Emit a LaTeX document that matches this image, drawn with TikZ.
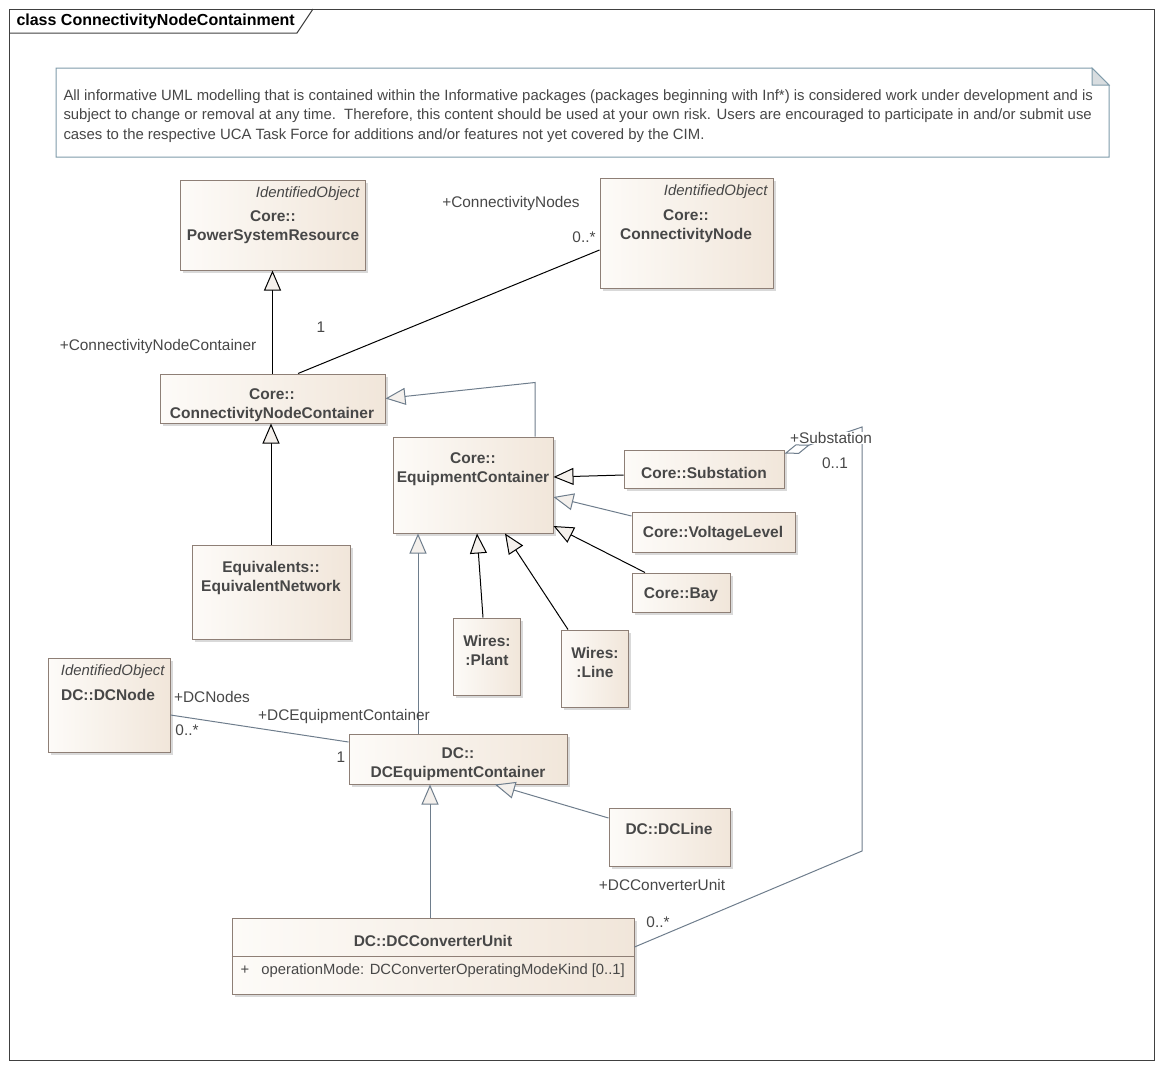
\documentclass[tikz,border=0pt]{standalone}
\usepackage{fontspec}
\setmainfont{Liberation Sans}
\usetikzlibrary{arrows.meta,shadows}

\definecolor{clsL}{HTML}{FDFBF8}
\definecolor{clsR}{HTML}{F1E6DA}
\definecolor{clsline}{HTML}{8E7F76}
\definecolor{clstext}{HTML}{474747}
\definecolor{slate}{HTML}{6E7D8C}
\definecolor{noteline}{HTML}{7F9BAA}
\definecolor{notefold}{HTML}{D8DDE0}
\definecolor{tipfill}{HTML}{F4F0EC}

\begin{document}
\begin{tikzpicture}[x=1pt,y=-1pt,line width=1pt]
      \tikzstyle{every node}+=[inner sep=0pt, text=clstext]
      \tikzstyle{cls}=[draw=clsline, left color=clsL, right color=clsR,
        drop shadow={shadow xshift=3pt,shadow yshift=-3pt,opacity=0.3,fill=gray}]
      \tikzstyle{cname}=[font=\fontsize{15.5}{19}\selectfont\bfseries, align=center]
      \tikzstyle{stereo}=[font=\fontsize{14.9}{17}\selectfont\itshape, anchor=east]
      \tikzstyle{role}=[font=\fontsize{15.4}{17}\selectfont]
      \tikzstyle{genb}=[black, -{Triangle[length=20pt,width=17pt,fill=tipfill]}]
      \tikzstyle{gens}=[slate, -{Triangle[length=20pt,width=17pt,fill=tipfill]}]
      \useasboundingbox (0,0) rectangle (1161,1069);
      % frame and title tab
      \draw [black!75] (9,9) rectangle (1154,1060);
      \draw [black!75] (9,33) -- (297,33) -- (313,9);
      \node (title) [anchor=west, text=black, font=\fontsize{16}{19}\selectfont\bfseries] at (16,21) {class ConnectivityNodeContainment};
      % note
      \draw [noteline, fill=white] (56,68) -- (1092,68) -- (1109,85) -- (1109,157) -- (56,157) -- cycle;
      \draw [noteline, fill=notefold] (1092,68) -- (1092,85) -- (1109,85) -- cycle;
      \node (note) [anchor=west, align=left, font=\fontsize{14.9}{19.5}\selectfont] at (63,116)
        {All informative UML modelling that is contained within the Informative packages (packages beginning with Inf*) is considered work under development and is\\
         subject to change or removal at any time.\ \ Therefore, this content should be used at your own risk. Users are encouraged to participate in and/or submit use\\
         cases to the respective UCA Task Force for additions and/or features not yet covered by the CIM.};
      % classes
      \node (psr) [cls, minimum width=185, minimum height=90] at (272.5,225) {};
      \node (psrS) [stereo] at (360,194) {IdentifiedObject};
      \node (psrN) [cname] at (273,227) {Core::\\PowerSystemResource};
      \node (cn) [cls, minimum width=173, minimum height=110] at (686.5,233) {};
      \node (cnS) [stereo] at (768,192) {IdentifiedObject};
      \node (cnN) [cname] at (686,226) {Core::\\ConnectivityNode};
      \node (cnc) [cls, minimum width=225, minimum height=49] at (272.5,398.5) {};
      \node (cncN) [cname] at (272,405.5) {Core::\\ConnectivityNodeContainer};
      \node (ec) [cls, minimum width=160, minimum height=96] at (473,485) {};
      \node (ecN) [cname] at (473,469.5) {Core::\\EquipmentContainer};
      \node (eqn) [cls, minimum width=158, minimum height=94] at (271,592) {};
      \node (eqnN) [cname] at (271,577.5) {Equivalents::\\EquivalentNetwork};
      \node (sub) [cls, minimum width=160, minimum height=38] at (704,469) {};
      \node (subN) [cname] at (704,472.5) {Core::Substation};
      \node (vl) [cls, minimum width=163, minimum height=40] at (713.5,532) {};
      \node (vlN) [cname] at (713,534) {Core::VoltageLevel};
      \node (bay) [cls, minimum width=98, minimum height=39] at (681,592.5) {};
      \node (bayN) [cname] at (681,595) {Core::Bay};
      \node (plant) [cls, minimum width=67, minimum height=77] at (486.5,656.5) {};
      \node (plantN) [cname] at (487,650.5) {Wires:\\:Plant};
      \node (wline) [cls, minimum width=67, minimum height=77] at (594.5,668.5) {};
      \node (wlineN) [cname] at (595,662) {Wires:\\:Line};
      \node (dcn) [cls, minimum width=122, minimum height=94] at (109,705) {};
      \node (dcnS) [stereo] at (165,672) {IdentifiedObject};
      \node (dcnN) [cname] at (108,695) {DC::DCNode};
      \node (dcec) [cls, minimum width=218, minimum height=50] at (458,759) {};
      \node (dcecN) [cname] at (458,764.5) {DC::\\DCEquipmentContainer};
      \node (dcl) [cls, minimum width=121, minimum height=58] at (669.5,837) {};
      \node (dclN) [cname] at (669,829) {DC::DCLine};
      \node (dcu) [cls, minimum width=402, minimum height=76] at (433,956) {};
      \node (dcuN) [cname] at (433,941) {DC::DCConverterUnit};
      \draw [clsline] (dcu.west |- 0,956) -- (dcu.east |- 0,956);
      \node (dcuA) [anchor=west, font=\fontsize{14.8}{17}\selectfont] at (240,971) {+\ \ \ operationMode: DCConverterOperatingModeKind [0..1]};
      % generalizations
      \draw [genb] (cnc.north) -- (psr.south);
      \draw [genb] (eqn.north) -- (eqn.north |- cnc.south);
      \draw [gens] ([xshift=62pt]ec.north) -- ++(0,-54) -- (cnc.east);
      \draw [genb] ([yshift=-6pt]sub.west) -- ([yshift=8pt]ec.east);
      \draw [gens] ([yshift=16pt]vl.west) -- ([yshift=-12pt]ec.east);
      \draw [genb] ([xshift=-36pt]bay.north) -- ([yshift=-41pt]ec.east);
      \draw [genb] ([xshift=-3.5pt]plant.north) -- ([xshift=4pt]ec.south);
      \draw [genb] ([xshift=-26.5pt]wline.north) -- ([xshift=32pt]ec.south);
      \draw [gens] ([xshift=-40pt]dcec.north) -- ([xshift=-55pt]ec.south);
      \draw [gens] ([yshift=19pt]dcl.west) -- ([xshift=37pt]dcec.south);
      \draw [gens] ([xshift=-3pt]dcu.north) -- ([xshift=-28pt]dcec.south);
      % associations
      \draw [black] ([xshift=25.5pt]cnc.north) -- ([yshift=-17pt]cn.west);
      \draw [slate] ([yshift=-10pt]dcn.east) -- ([yshift=17pt]dcec.west);
      \coordinate (subTop) at (862,427);
      \coordinate (subLow) at (862,851);
      \draw [slate, {Diamond[length=27pt,width=10pt,fill=white]}-] ([yshift=-4pt]sub.north east) -- (subTop) -- (subLow) -- ([yshift=9pt]dcu.east);
      % role names and multiplicities
      \node (rCNC) [role] at (158,347) {+ConnectivityNodeContainer};
      \node (mCNC) [role] at (321,327) {1};
      \node (rCN) [role] at (511,204) {+ConnectivityNodes};
      \node (mCN) [role] at (584,237) {0..*};
      \node (rDCN) [role] at (212,697) {+DCNodes};
      \node (mDCN) [role] at (187,730) {0..*};
      \node (rDCEC) [role] at (344,717) {+DCEquipmentContainer};
      \node (mDCEC) [role] at (341,757) {1};
      \node (rDCU) [role] at (662,885) {+DCConverterUnit};
      \node (mDCU) [role] at (658,922) {0..*};
      \node (rSub) [role, fill=white] at (831,438) {+Substation};
      \node (mSub) [role] at (835,463) {0..1};
\end{tikzpicture}
\end{document}
